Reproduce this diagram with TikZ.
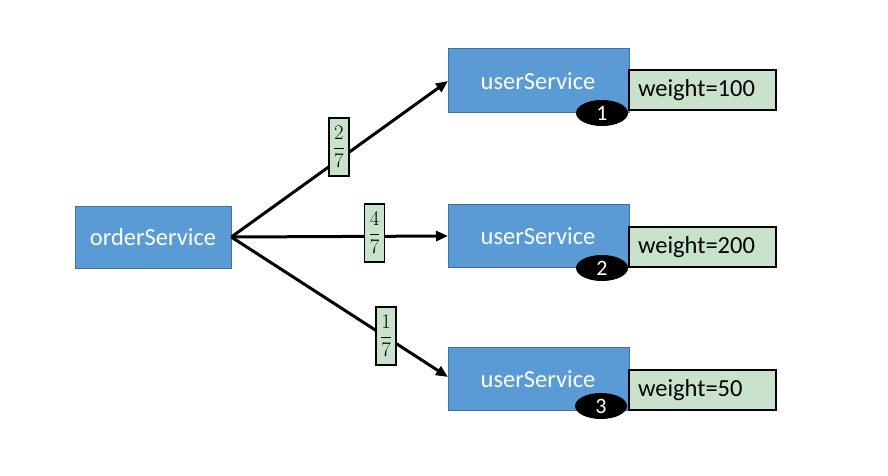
\documentclass[tikz,border=0pt]{standalone}
\usepackage{fontspec}
\setmainfont{Carlito}
\usepackage{amsmath}
\usetikzlibrary{arrows.meta,shapes.geometric}
\definecolor{svcblue}{RGB}{91,155,213}
\definecolor{svcedge}{RGB}{65,113,156}
\definecolor{wgreen}{RGB}{200,226,204}
\begin{document}
\begin{tikzpicture}[x=1pt,y=-1pt,
  service/.style={draw=svcedge,line width=0.6pt,fill=svcblue,text=white,
    minimum width=#1,inner sep=0pt,font=\fontsize{24.5}{28}\selectfont},
  svclabel/.style={text=white,inner sep=0pt,font=\fontsize{24.5}{28}\selectfont},
  weightbox/.style={draw=black,line width=2pt,fill=wgreen,minimum width=147pt,
    minimum height=40pt,inner sep=0pt,text width=129pt,align=left,
    font=\fontsize{24.5}{28}\selectfont},
  badge/.style={ellipse,fill=black,text=white,minimum width=52pt,minimum height=26pt,
    inner sep=0pt,font=\fontsize{22}{24}\selectfont},
  fracbox/.style={draw=black,line width=1.6pt,fill=wgreen,minimum width=20pt,
    minimum height=58pt,inner sep=0pt,font=\fontsize{22}{26}\selectfont},
  link/.style={line width=3pt,-{Triangle[length=12pt,width=10pt]}}]
  \useasboundingbox (0,0) rectangle (888,475);
  \fill[white] (0,0) rectangle (888,475);

  % caller and providers
  \node[service=156pt,minimum height=62pt] (order) at (153,237) {orderService};
  \node[service=181pt,minimum height=64pt,anchor=north west] (u1) at (448,48) {};
  \node[service=181pt,minimum height=63pt,anchor=north west] (u2) at (448,204) {};
  \node[service=181pt,minimum height=63pt,anchor=north west] (u3) at (448,347) {};
  \node[svclabel] (t1) at (538,81) {userService};
  \node[svclabel] (t2) at (538,236) {userService};
  \node[svclabel] (t3) at (538,379) {userService};

  % weights
  \node[weightbox,anchor=north west] (w1) at (628,69) {weight=100};
  \node[weightbox,anchor=north west] (w2) at (628,226) {weight=200};
  \node[weightbox,anchor=north west] (w3) at (628,369) {weight=50};

  % provider numbers
  \node[badge] (b1) at (602,113) {1};
  \node[badge] (b2) at (602,268) {2};
  \node[badge] (b3) at (601,406) {3};

  % load-balancing links
  \coordinate (e1) at (448,81);
  \coordinate (e2) at (448,236);
  \coordinate (e3) at (448,377);
  \draw[link] (order.east) -- (e1);
  \draw[link] (order.east) -- (e2);
  \draw[link] (order.east) -- (e3);

  % probability labels
  \node[fracbox] (f1) at (339,147) {$\dfrac{2}{7}$};
  \node[fracbox] (f2) at (374.5,233) {$\dfrac{4}{7}$};
  \node[fracbox] (f3) at (386,336) {$\dfrac{1}{7}$};
\end{tikzpicture}
\end{document}
